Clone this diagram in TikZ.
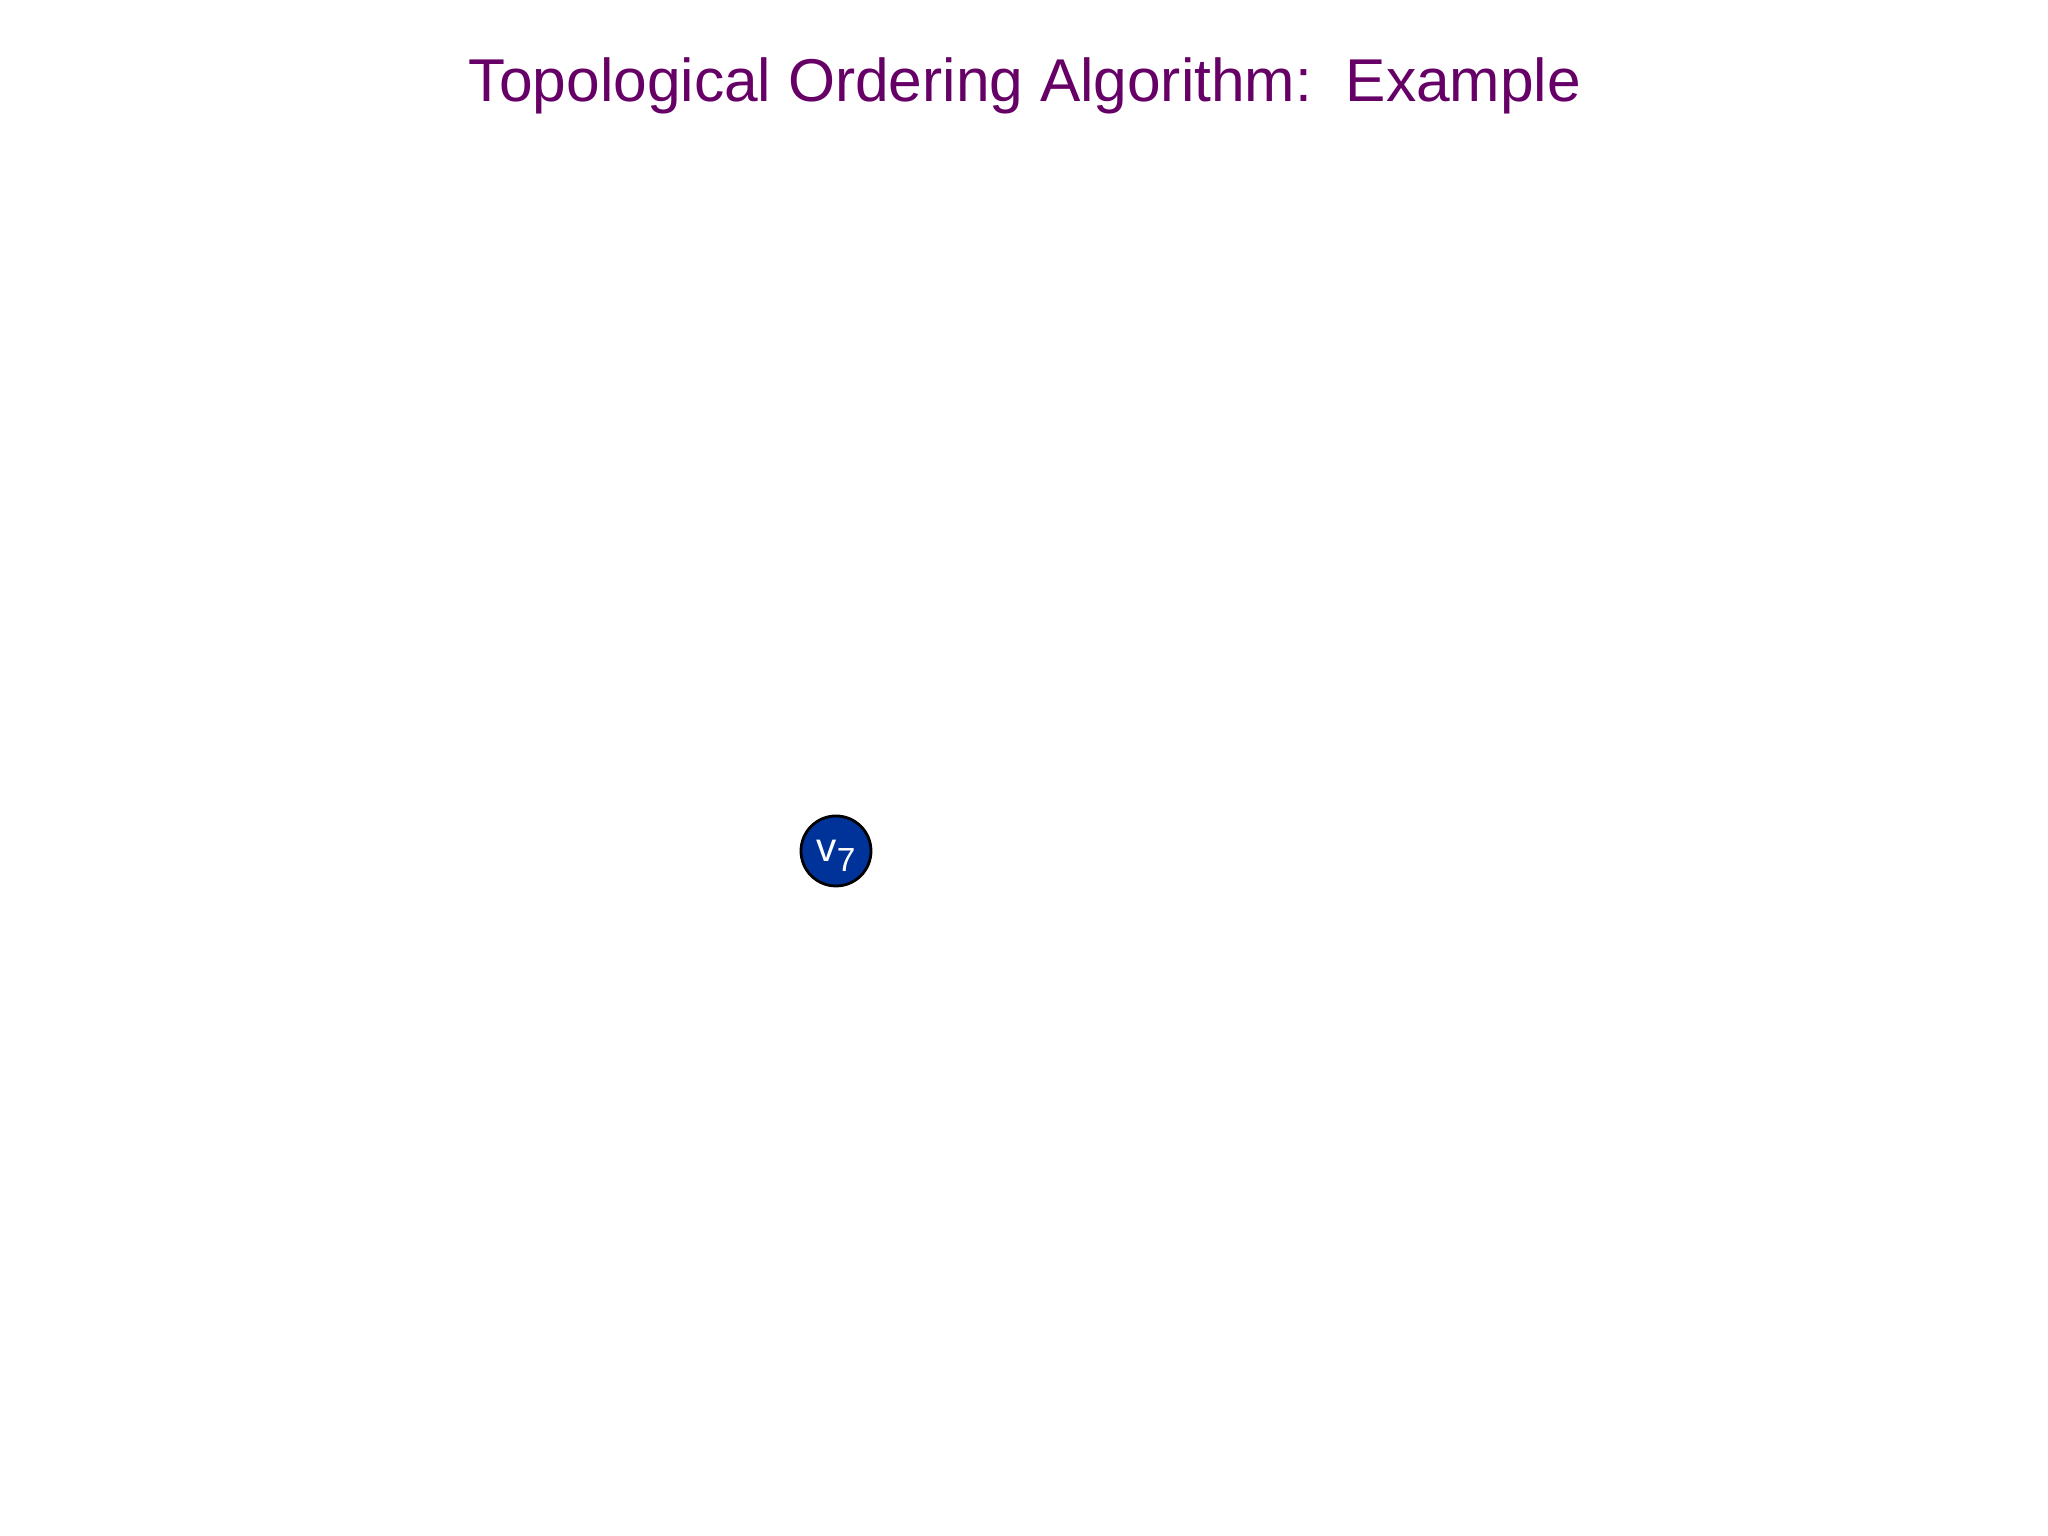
\documentclass[tikz,border=0pt]{standalone}
\usepackage{fontspec}
\setmainfont{Liberation Sans}
\usepackage{tikz}
\usetikzlibrary{positioning}
\definecolor{titlepurple}{HTML}{660066}
\definecolor{vertexblue}{HTML}{003399}

\begin{document}
\begin{tikzpicture}[vertex/.style={circle,draw=black,line width=0.8pt,fill=vertexblue,text=white,minimum size=0.7cm,inner sep=0pt,text height=1.1ex,text depth=0pt,font=\fontsize{11.5}{13}\selectfont}]
      \useasboundingbox (0,0) rectangle (20.48,15.36);
      \node[titlepurple,font=\fontsize{17.2}{21}\selectfont] (title) at (10.25, 14.5) {Topological Ordering Algorithm:\ \ Example};

      \node[vertex] (v7) at (8.36, 6.85) {v\raisebox{-0.5ex}{\fontsize{9.5}{10}\selectfont 7}};
    \end{tikzpicture}
\end{document}
